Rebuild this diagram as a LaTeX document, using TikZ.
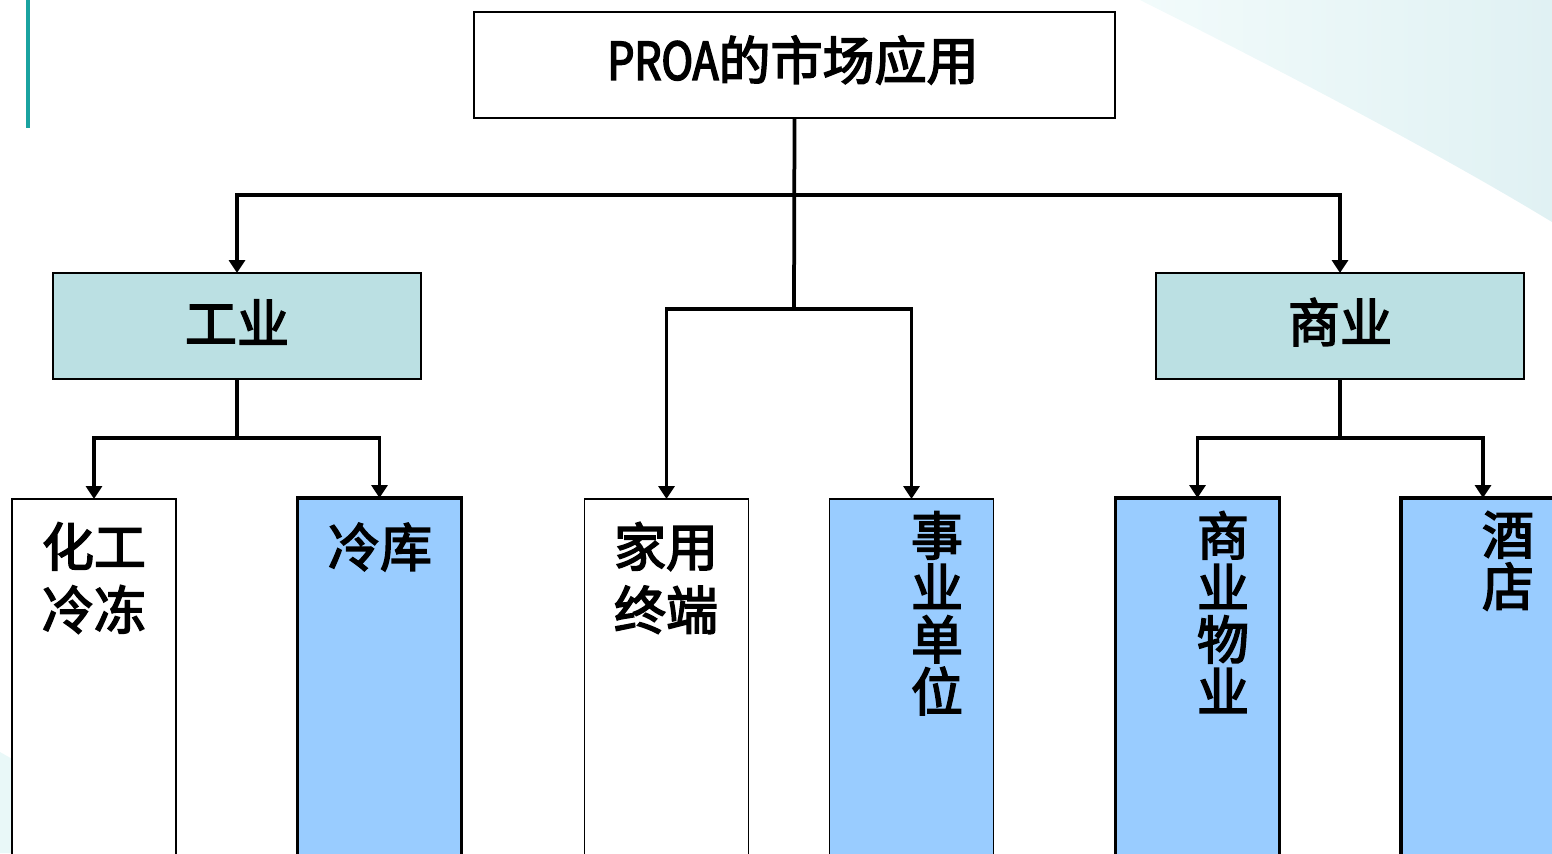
\documentclass[tikz,border=0pt]{standalone}
\usepackage{fontspec}
\newfontfamily\cjk[FakeBold=3]{Noto Sans CJK SC}
\usetikzlibrary{arrows.meta}
\definecolor{tealfill}{HTML}{BBE0E3}
\definecolor{bluefill}{HTML}{99CCFF}
\definecolor{accent}{HTML}{1AA3A0}
\definecolor{bgA}{HTML}{F2FBFB}
\definecolor{bgB}{HTML}{E0F1F3}
\definecolor{bgC}{HTML}{E9F8F8}
\begin{document}
\begin{tikzpicture}[x=0.02cm,y=-0.02cm,
  box/.style={draw=black, line width=0.035cm, inner sep=0, outer sep=0},
  topbox/.style={box, fill=white, minimum width=12.82cm, minimum height=2.12cm},
  midbox/.style={box, fill=tealfill, minimum width=7.36cm, minimum height=2.12cm},
  leaf/.style={box, minimum width=3.28cm, minimum height=8.4cm, anchor=north},
  whiteleaf/.style={leaf, fill=white},
  blueleaf/.style={leaf, fill=bluefill},
  thickleaf/.style={blueleaf, line width=0.07cm},
  lbl/.style={font=\cjk\fontsize{29.6}{36}\selectfont, align=center, inner sep=0},
  vlbl/.style={font=\cjk\fontsize{29.6}{29.6}\selectfont, align=center, inner sep=0, anchor=north},
  conn/.style={line width=0.075cm},
  arr/.style={conn, -{Triangle[width=0.32cm,length=0.26cm]}}]
\useasboundingbox (0,0) rectangle (1552,853);
\clip (0,0) rectangle (1552,853);
% background decoration
\shade[left color=bgA, right color=bgB] (1140,0) .. controls (1300,80) and (1450,160) .. (1552,222) -- (1552,0) -- cycle;
\fill[bgC] (0,752) .. controls (50,780) and (100,815) .. (145,853) -- (0,853) -- cycle;
\draw[accent, line width=0.08cm] (28,0) -- (28,128);
% boxes
\node[topbox] (title) at (794.5,65) {};
\node[lbl] (titletext) at (793,60) {\addfontfeatures{FakeStretch=0.82,FakeBold=3}PROA\addfontfeatures{FakeStretch=1,FakeBold=3}的市场应用};
\node[midbox] (gy) at (237,326) {};
\node[lbl] (gytext) at (237,322) {工业};
\node[midbox] (sy) at (1340,326) {};
\node[lbl] (sytext) at (1340,322) {商业};
\node[whiteleaf] (hg) at (94,499) {};
\node[lbl] (hgtext) at (94,578) {化工\\冷冻};
\node[thickleaf] (lk) at (379.5,498) {};
\node[lbl] (lktext) at (380,547) {冷库};
\node[whiteleaf] (jy) at (666.5,499) {};
\node[lbl] (jytext) at (666,578) {家用\\终端};
\node[blueleaf] (sd) at (911.5,499) {};
\node[vlbl] (sdtext) at (937,511) {事\\业\\单\\位};
\node[thickleaf] (sw) at (1197.5,498) {};
\node[vlbl] (swtext) at (1223,511) {商\\业\\物\\业};
\node[thickleaf] (jd) at (1483,498) {};
\node[vlbl] (jdtext) at (1508,511) {酒\\店};
% junctions
\coordinate (j1) at (794,195);
\coordinate (j2) at (794,309);
\coordinate (j3) at (237,438);
\coordinate (j4) at (1340,438);
% connectors
\draw[conn] (title.south) -- (j2);
\draw[arr] (j1) -| (gy.north);
\draw[arr] (j1) -| (sy.north);
\draw[arr] (j2) -| (jy.north);
\draw[arr] (j2) -| (sd.north);
\draw[conn] (gy.south) -- (j3);
\draw[arr] (j3) -| (hg.north);
\draw[arr] (j3) -| (lk.north);
\draw[conn] (sy.south) -- (j4);
\draw[arr] (j4) -| (sw.north);
\draw[arr] (j4) -| (jd.north);
\end{tikzpicture}
\end{document}
